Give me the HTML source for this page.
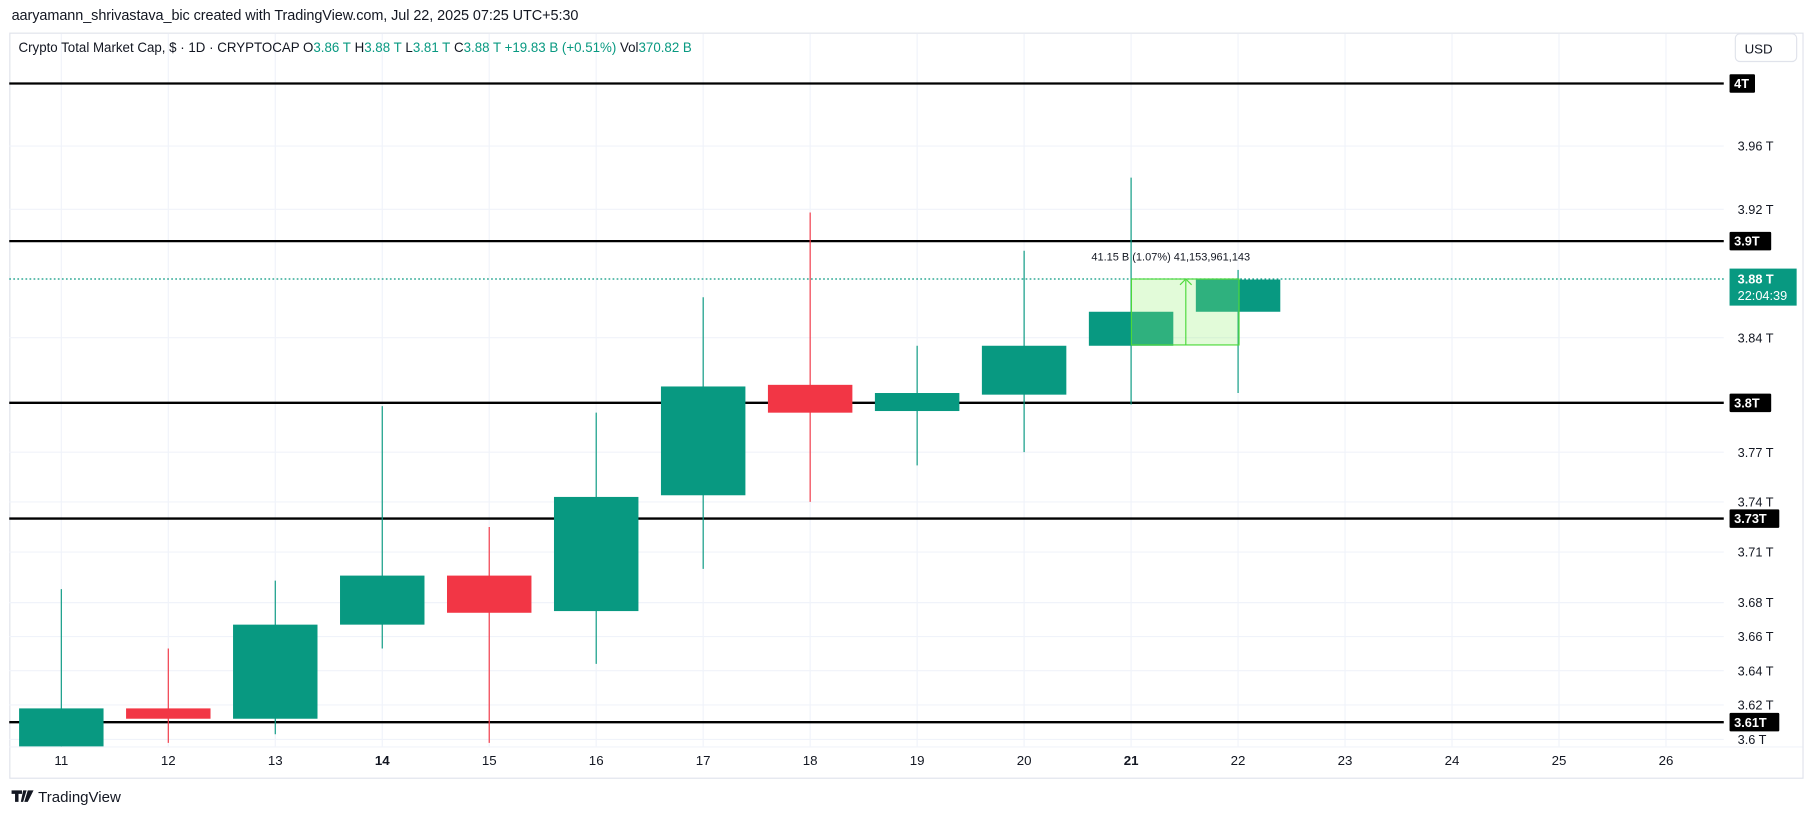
<!DOCTYPE html>
<html><head><meta charset="utf-8"><style>
html,body{margin:0;padding:0;background:#fff;width:1814px;height:816px;overflow:hidden}
svg{display:block;font-family:"Liberation Sans",sans-serif}
</style></head><body>
<svg id="chart" width="1814" height="816" viewBox="0 0 1568 705">
<text x="10" y="17" font-size="12.5" fill="#131722" textLength="490">aaryamann_shrivastava_bic created with TradingView.com, Jul 22, 2025 07:25 UTC+5:30</text>
<rect x="8.5" y="28.5" width="1550" height="644" fill="none" stroke="#e0e3eb"/>
<g id="grid"></g>
<g id="hlines"></g>
<line x1="8" x2="1490" y1="241" y2="241" stroke="#089981" stroke-dasharray="1.5,2"/>
<g id="candles"></g>
<g>
<rect x="978" y="241" width="93" height="57" fill="rgba(150,240,120,0.28)" stroke="#4cd93a" stroke-width="1"/>
<line x1="1025" y1="298" x2="1025" y2="242" stroke="#4cd93a"/>
<polyline points="1020,246 1025,241 1030,246" fill="none" stroke="#4cd93a"/>
<text x="1012" y="225" font-size="9.5" fill="#131722" text-anchor="middle">41.15 B (1.07%) 41,153,961,143</text>
</g>
<text x="16" y="45" font-size="12" fill="#131722" textLength="582" lengthAdjust="spacingAndGlyphs">Crypto Total Market Cap, $ · 1D · CRYPTOCAP  O<tspan fill="#089981">3.86 T</tspan>  H<tspan fill="#089981">3.88 T</tspan>  L<tspan fill="#089981">3.81 T</tspan>  C<tspan fill="#089981">3.88 T  +19.83 B (+0.51%)</tspan>  Vol<tspan fill="#089981">370.82 B</tspan></text>
<rect x="1500" y="29" width="53" height="24" rx="4" fill="#fff" stroke="#e0e3eb"/>
<text x="1508" y="46" font-size="11.5" fill="#131722">USD</text>
<g id="yaxis"></g>
<g id="xaxis"></g>
<rect x="1495" y="232" width="58" height="32" fill="#089981"/>
<text x="1502" y="245" font-size="11" fill="#fff" font-weight="bold">3.88 T</text>
<text x="1502" y="259" font-size="11" fill="#fff">22:04:39</text>
<g>
<path d="M10 683h9v3h-3v7h-3v-7h-3z M20 683h3l-3 10h-2z M24 683h5l-5 10h-3z" fill="#131722"/>
<text x="33" y="693" font-size="13" fill="#131722">TradingView</text>
</g>
</svg>
<script>
const days=[11,12,13,14,15,16,17,18,19,20,21,22];
const opens=[3.595,3.618,3.612,3.667,3.696,3.675,3.744,3.811,3.795,3.805,3.835,3.856];
const highs=[3.688,3.653,3.693,3.798,3.725,3.794,3.865,3.918,3.835,3.894,3.940,3.882];
const lows=[3.58,3.598,3.603,3.653,3.598,3.644,3.700,3.740,3.762,3.770,3.799,3.806];
const closes=[3.618,3.612,3.667,3.696,3.674,3.743,3.810,3.794,3.806,3.835,3.856,3.876];
const axisDays=[11,12,13,14,15,16,17,18,19,20,21,22,23,24,25,26];
const boldDays=[14,21];
const tickVals=[3.96,3.92,3.84,3.77,3.74,3.71,3.68,3.66,3.64,3.62,3.6];
const tickLabels=["3.96 T","3.92 T","3.84 T","3.77 T","3.74 T","3.71 T","3.68 T","3.66 T","3.64 T","3.62 T","3.6 T"];
const levels=[4,3.9,3.8,3.73,3.61];
const levelLabels=["4T","3.9T","3.8T","3.73T","3.61T"];
const NS="http://www.w3.org/2000/svg";
const yTop=72,yBot=639,pTop=4,pBot=3.6;
function y(p){return yTop+(Math.log(pTop)-Math.log(p))/(Math.log(pTop)-Math.log(pBot))*(yBot-yTop);}
function x(d){return 53+(d-11)*92.47;}
function mk(t,a,parent){const e=document.createElementNS(NS,t);for(const k in a)e.setAttribute(k,a[k]);parent.appendChild(e);return e;}
const grid=document.getElementById('grid'),hl=document.getElementById('hlines'),cg=document.getElementById('candles'),ya=document.getElementById('yaxis'),xa=document.getElementById('xaxis');
axisDays.forEach(d=>{
  const l=mk('line',{x1:x(d),x2:x(d),y1:29,y2:645,stroke:'#f0f3fa'},grid);
  
  
  const t=mk('text',{x:x(d),y:661,'font-size':11.5,'text-anchor':'middle',fill:'#131722','font-weight':boldDays.includes(d)?'bold':'normal'},xa);
  t.textContent=d;
  
  
});
mk('line',{x1:8,x2:1558,y1:645.5,y2:645.5,stroke:'#f0f3fa'},grid);
tickVals.forEach((v,i)=>{
  const yy=y(v);
  const l=mk('line',{x1:8,x2:1490,y1:yy,y2:yy,stroke:'#f0f3fa'},grid);
  
  
  const t=mk('text',{x:1502,y:yy+4,'font-size':11,fill:'#131722'},ya);
  t.textContent=tickLabels[i];
  
  
});
levels.forEach((v,i)=>{
  const yy=y(v);
  const l=mk('line',{x1:8,x2:1490,y1:yy,y2:yy,stroke:'#000','stroke-width':2},hl);
  
  
  const w=levelLabels[i].length*7+8;
  const r=mk('rect',{x:1495,y:yy-8,width:w,height:16,fill:'#000',rx:1},ya);
  
  
  const t=mk('text',{x:1499,y:yy+4,'font-size':11,fill:'#fff','font-weight':'bold'},ya);
  t.textContent=levelLabels[i];
  
  
});
const cp=mk('clipPath',{id:'pane'},cg);mk('rect',{x:8,y:29,width:1482,height:616},cp);
const inner=mk('g',{'clip-path':'url(#pane)'},cg);
days.forEach((d,i)=>{
  const up=closes[i]>=opens[i],col=up?'#089981':'#f23645';
  const cx=x(d);
  const w=mk('line',{x1:cx,x2:cx,y1:y(highs[i]),y2:y(lows[i]),stroke:col,'stroke-width':1},inner);
  
  
  const t=y(Math.max(opens[i],closes[i])),b=y(Math.min(opens[i],closes[i]));
  const r=mk('rect',{x:cx-36.5,y:t,width:73,height:Math.max(1,b-t),fill:col},inner);
  
  
});
</script>
</body></html>
